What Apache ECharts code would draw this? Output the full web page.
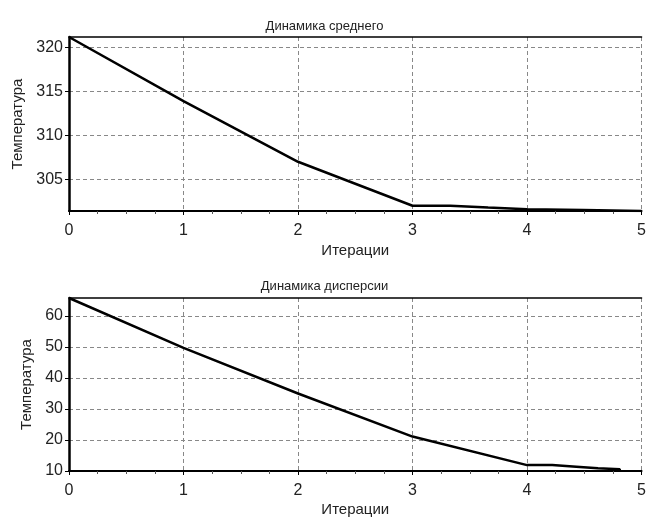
<!DOCTYPE html>
<html>
<head>
<meta charset="utf-8">
<script src="https://cdn.jsdelivr.net/npm/echarts@6/dist/echarts.min.js"></script>
<style>
html,body{margin:0;padding:0;background:#fff;}
#c{width:649px;height:519px;}
</style>
</head>
<body>
<div id="c"></div>
<script>
// ---- data ----
const titleMean = 'Динамика среднего';
const titleDisp = 'Динамика дисперсии';
const xName = 'Итерации';
const yName = 'Температура';
const xTicks = [0, 1, 2, 3, 4, 5];

const meanIter = [0, 1, 2, 3, 3.33, 3.33, 3.66, 3.66, 4, 4, 4.49, 4.49, 5];
const meanVals = [321.2, 313.9, 307.0, 302.0, 302.0, 301.8, 301.8, 301.6, 301.6, 301.5, 301.5, 301.4, 301.4];
const meanTicks = [305, 310, 315, 320];
const meanRange = [301.4, 321.2];

const dispIter = [0, 1, 2, 3, 4, 4.22, 4.22, 4.43, 4.43, 4.62, 4.62, 4.81, 4.81];
const dispVals = [65.8, 49.7, 35.0, 21.1, 11.9, 11.9, 11.4, 11.4, 10.9, 10.9, 10.6, 10.6, 10.0];
const dispTicks = [10, 20, 30, 40, 50, 60];
const dispRange = [10, 65.8];

const FONT = '"Liberation Sans", Arial, sans-serif';
const TXT = '#222';

function pairs(xs, ys) { return xs.map((x, i) => [x, ys[i]]); }

function xAxisMain(gi, gap) {
  return {
    type: 'value', gridIndex: gi, min: 0, max: 5, interval: 1,
    name: xName, nameLocation: 'middle', nameGap: gap,
    nameTextStyle: { fontFamily: FONT, fontSize: 15, color: TXT },
    axisLine: { show: true, onZero: false, lineStyle: { color: '#000', width: 2 } },
    axisTick: { show: true, length: 4, lineStyle: { color: '#000' } },
    minorTick: { show: true, splitNumber: 4, length: 3, lineStyle: { color: '#555' } },
    axisLabel: { fontFamily: FONT, fontSize: 16, color: TXT, margin: 12,
                 customValues: xTicks },
    splitLine: { show: true, lineStyle: { color: '#888', type: [4, 3], width: 1 } }
  };
}
function xAxisTop(gi) {
  return {
    type: 'value', gridIndex: gi, position: 'top', min: 0, max: 5,
    axisLine: { show: true, onZero: false, lineStyle: { color: '#000', width: 1.5 } },
    axisTick: { show: false }, axisLabel: { show: false }, splitLine: { show: false }
  };
}
function yAxisMain(gi, range, ticks, gap) {
  return {
    type: 'value', gridIndex: gi, min: range[0], max: range[1],
    name: yName, nameLocation: 'middle', nameGap: gap, nameRotate: 90,
    nameTextStyle: { fontFamily: FONT, fontSize: 15, color: TXT },
    axisLine: { show: true, onZero: false, lineStyle: { color: '#000', width: 2.5 } },
    axisTick: { show: true, length: 4, customValues: ticks, lineStyle: { color: '#000' } },
    axisLabel: { fontFamily: FONT, fontSize: 16, color: TXT, margin: 6, customValues: ticks },
    splitLine: { show: true, lineStyle: { color: '#888', type: [4, 3], width: 1 } }
  };
}

const chart = echarts.init(document.getElementById('c'), null, { renderer: 'canvas' });
chart.setOption({
  animation: false,
  backgroundColor: '#fff',
  title: [
    { text: titleMean, left: 'center', top: 15,
      textStyle: { fontFamily: FONT, fontSize: 13, fontWeight: 'normal', color: TXT } },
    { text: titleDisp, left: 'center', top: 275,
      textStyle: { fontFamily: FONT, fontSize: 13, fontWeight: 'normal', color: TXT } }
  ],
  grid: [
    { left: 69, right: 6, top: 37, height: 174 },
    { left: 69, right: 6, top: 298, height: 173 }
  ],
  xAxis: [ xAxisMain(0, 32), xAxisMain(1, 31), xAxisTop(0), xAxisTop(1) ],
  yAxis: [ yAxisMain(0, meanRange, meanTicks, 42), yAxisMain(1, dispRange, dispTicks, 26) ],
  series: [
    { type: 'line', xAxisIndex: 0, yAxisIndex: 0, data: pairs(meanIter, meanVals),
      showSymbol: false, lineStyle: { color: '#000', width: 2.5 }, z: 5 },
    { type: 'line', xAxisIndex: 1, yAxisIndex: 1, data: pairs(dispIter, dispVals),
      showSymbol: false, lineStyle: { color: '#000', width: 2.5 }, z: 5 }
  ]
});
</script>
</body>
</html>
